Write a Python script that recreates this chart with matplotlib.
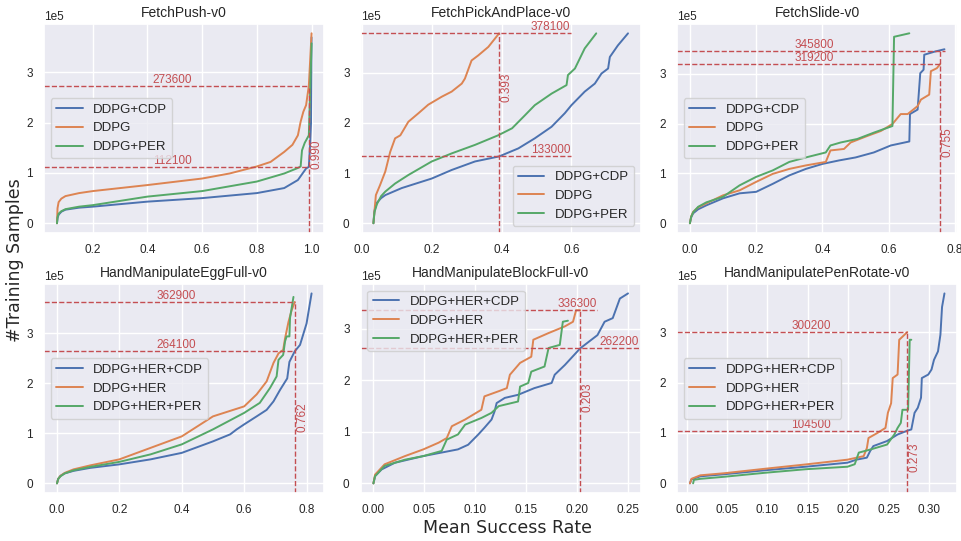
import matplotlib
matplotlib.use('Agg')
import matplotlib.pyplot as plt
import seaborn as sns

# ---- data: success rate (x) vs training samples (y) ----
titles = ['FetchPush-v0', 'FetchPickAndPlace-v0', 'FetchSlide-v0',
          'HandManipulateEggFull-v0', 'HandManipulateBlockFull-v0',
          'HandManipulatePenRotate-v0']
labels_fetch = ['DDPG+CDP', 'DDPG', 'DDPG+PER']
labels_hand = ['DDPG+HER+CDP', 'DDPG+HER', 'DDPG+HER+PER']

# FetchPush
push_cdp_x = [0.069, 0.071, 0.075, 0.085, 0.1, 0.15, 0.2, 0.4, 0.6, 0.8, 0.9, 0.95, 0.98, 0.99, 0.995, 0.998, 1.0]
push_cdp_y = [0, 10000, 17000, 23000, 27000, 31000, 33000, 43000, 50000, 60000, 70000, 86000, 109000, 112100, 160000, 200000, 370000]
push_ddpg_x = [0.069, 0.071, 0.075, 0.085, 0.1, 0.15, 0.2, 0.4, 0.6, 0.7, 0.8, 0.85, 0.9, 0.93, 0.95, 0.96, 0.97, 0.98, 0.99, 1.0]
push_ddpg_y = [0, 30000, 42000, 49000, 54000, 60000, 64000, 76000, 89000, 99000, 113000, 122000, 142000, 156000, 175000, 202000, 222000, 235000, 273600, 378000]
push_per_x = [0.069, 0.071, 0.075, 0.085, 0.1, 0.15, 0.2, 0.4, 0.6, 0.8, 0.9, 0.95, 0.96, 0.965, 0.975, 0.99, 1.0]
push_per_y = [0, 12000, 19000, 24000, 28000, 33000, 36000, 53000, 64000, 83000, 99000, 110000, 113000, 145000, 160000, 175000, 358000]

# FetchPickAndPlace
pick_cdp_x = [0.033, 0.036, 0.043, 0.055, 0.067, 0.114, 0.2, 0.257, 0.324, 0.393, 0.448, 0.495, 0.543, 0.581, 0.6, 0.638, 0.667, 0.686, 0.705, 0.71, 0.733, 0.762]
pick_cdp_y = [0, 25000, 41000, 50000, 56000, 70000, 89000, 106000, 123000, 133000, 149000, 169000, 192000, 219000, 235000, 262000, 278000, 298000, 308000, 331000, 354000, 378000]
pick_ddpg_x = [0.033, 0.04, 0.052, 0.067, 0.081, 0.095, 0.11, 0.133, 0.162, 0.19, 0.229, 0.257, 0.286, 0.295, 0.314, 0.333, 0.362, 0.393]
pick_ddpg_y = [0, 56000, 76000, 103000, 142000, 169000, 175000, 202000, 219000, 236000, 252000, 262000, 278000, 288000, 324000, 334000, 351000, 378100]
pick_per_x = [0.033, 0.036, 0.043, 0.055, 0.067, 0.095, 0.133, 0.2, 0.257, 0.324, 0.39, 0.43, 0.467, 0.495, 0.543, 0.586, 0.59, 0.61, 0.638, 0.671]
pick_per_y = [0, 22000, 38000, 54000, 63000, 79000, 96000, 123000, 139000, 156000, 175000, 189000, 215000, 235000, 258000, 275000, 295000, 308000, 348000, 378000]

# FetchSlide
slide_cdp_x = [0.0, 0.004, 0.01, 0.025, 0.05, 0.1, 0.15, 0.2, 0.25, 0.3, 0.35, 0.4, 0.45, 0.5, 0.555, 0.606, 0.662, 0.664, 0.687, 0.695, 0.705, 0.707, 0.737, 0.768]
slide_cdp_y = [0, 12000, 20000, 28000, 36000, 50000, 60000, 63000, 79000, 96000, 109000, 119000, 126000, 132000, 142000, 156000, 164000, 219000, 228000, 301000, 308000, 338000, 344000, 349000]
slide_ddpg_x = [0.0, 0.004, 0.01, 0.025, 0.05, 0.1, 0.15, 0.2, 0.25, 0.3, 0.35, 0.41, 0.424, 0.465, 0.485, 0.535, 0.576, 0.611, 0.636, 0.657, 0.687, 0.697, 0.722, 0.727, 0.745, 0.755]
slide_ddpg_y = [0, 14000, 23000, 32000, 40000, 56000, 66000, 83000, 99000, 109000, 116000, 123000, 146000, 149000, 162000, 175000, 185000, 199000, 219000, 219000, 235000, 248000, 258000, 305000, 311000, 319200]
slide_per_x = [0.0, 0.004, 0.01, 0.025, 0.05, 0.1, 0.15, 0.2, 0.25, 0.3, 0.35, 0.41, 0.424, 0.455, 0.505, 0.556, 0.611, 0.616, 0.662]
slide_per_y = [0, 13000, 22000, 33000, 42000, 53000, 76000, 93000, 106000, 123000, 132000, 142000, 156000, 162000, 169000, 182000, 195000, 374000, 381000]

# HandManipulateEggFull
egg_cdp_x = [0.0, 0.004, 0.011, 0.025, 0.053, 0.107, 0.2, 0.3, 0.4, 0.5, 0.555, 0.576, 0.6, 0.64, 0.672, 0.694, 0.715, 0.738, 0.745, 0.762, 0.779, 0.8, 0.816]
egg_cdp_y = [0, 9000, 15000, 20000, 25000, 31000, 38000, 48000, 61000, 84000, 98000, 108000, 118000, 134000, 147000, 164000, 187000, 210000, 243000, 264100, 277000, 320000, 380000]
egg_her_x = [0.0, 0.004, 0.011, 0.025, 0.053, 0.107, 0.2, 0.3, 0.4, 0.5, 0.6, 0.64, 0.672, 0.694, 0.71, 0.725, 0.731, 0.742, 0.752, 0.762]
egg_her_y = [0, 9000, 15000, 21000, 28000, 36000, 48000, 71000, 94000, 134000, 154000, 178000, 204000, 241000, 260000, 267000, 290000, 323000, 346000, 362900]
egg_per_x = [0.0, 0.004, 0.011, 0.025, 0.053, 0.107, 0.2, 0.3, 0.4, 0.5, 0.6, 0.65, 0.683, 0.704, 0.71, 0.725, 0.731, 0.736, 0.745, 0.747, 0.758]
egg_per_y = [0, 9000, 14000, 20000, 26000, 33000, 43000, 58000, 78000, 108000, 141000, 161000, 191000, 214000, 247000, 257000, 284000, 294000, 294000, 331000, 373000]

# HandManipulateBlockFull
block_cdp_x = [0.0, 0.0016, 0.008, 0.021, 0.049, 0.07, 0.083, 0.093, 0.103, 0.109, 0.116, 0.119, 0.121, 0.129, 0.142, 0.158, 0.175, 0.178, 0.188, 0.203, 0.22, 0.227, 0.235, 0.242, 0.25]
block_cdp_y = [0, 14000, 27000, 40000, 53000, 61000, 66000, 75000, 95000, 108000, 124000, 140000, 156000, 166000, 172000, 185000, 195000, 211000, 230000, 262200, 288000, 314000, 321000, 359000, 369000]
block_her_x = [0.0, 0.0016, 0.011, 0.031, 0.049, 0.064, 0.072, 0.077, 0.09, 0.106, 0.109, 0.123, 0.131, 0.134, 0.144, 0.155, 0.157, 0.172, 0.188, 0.196, 0.199, 0.203]
block_her_y = [0, 17000, 37000, 53000, 66000, 79000, 88000, 111000, 124000, 143000, 169000, 179000, 185000, 211000, 234000, 246000, 279000, 292000, 305000, 314000, 336300, 336300]
block_per_x = [0.0, 0.0016, 0.011, 0.031, 0.049, 0.067, 0.072, 0.083, 0.09, 0.106, 0.116, 0.123, 0.142, 0.144, 0.152, 0.155, 0.168, 0.172, 0.183, 0.186, 0.191]
block_per_y = [0, 14000, 34000, 46000, 53000, 63000, 85000, 95000, 114000, 127000, 137000, 150000, 159000, 188000, 195000, 217000, 227000, 263000, 269000, 314000, 316000]

# HandManipulatePenRotate
pen_cdp_x = [0.004, 0.006, 0.017, 0.046, 0.097, 0.147, 0.199, 0.21, 0.223, 0.227, 0.231, 0.248, 0.261, 0.273, 0.278, 0.282, 0.286, 0.29, 0.291, 0.299, 0.303, 0.306, 0.311, 0.314, 0.316, 0.319]
pen_cdp_y = [0, 8000, 14000, 18000, 26000, 33000, 41000, 47000, 51000, 64000, 74000, 84000, 97000, 104500, 107000, 140000, 150000, 170000, 209000, 216000, 226000, 245000, 262000, 295000, 350000, 377000]
pen_her_x = [0.004, 0.006, 0.017, 0.046, 0.097, 0.147, 0.199, 0.219, 0.223, 0.225, 0.236, 0.246, 0.249, 0.253, 0.255, 0.261, 0.263, 0.267, 0.273]
pen_her_y = [0, 9000, 16000, 20000, 29000, 37500, 47000, 54000, 70000, 90000, 100000, 110000, 140000, 159000, 209000, 216000, 285000, 291000, 300200]
pen_per_x = [0.008, 0.009, 0.017, 0.046, 0.097, 0.147, 0.199, 0.208, 0.213, 0.227, 0.248, 0.257, 0.261, 0.265, 0.267, 0.274, 0.276, 0.278]
pen_per_y = [0, 7000, 9000, 13000, 21000, 28000, 33000, 38000, 61000, 67000, 77000, 97000, 110000, 120000, 146000, 146000, 285000, 285000]

curves = [
    [(push_cdp_x, push_cdp_y), (push_ddpg_x, push_ddpg_y), (push_per_x, push_per_y)],
    [(pick_cdp_x, pick_cdp_y), (pick_ddpg_x, pick_ddpg_y), (pick_per_x, pick_per_y)],
    [(slide_cdp_x, slide_cdp_y), (slide_ddpg_x, slide_ddpg_y), (slide_per_x, slide_per_y)],
    [(egg_cdp_x, egg_cdp_y), (egg_her_x, egg_her_y), (egg_per_x, egg_per_y)],
    [(block_cdp_x, block_cdp_y), (block_her_x, block_her_y), (block_per_x, block_per_y)],
    [(pen_cdp_x, pen_cdp_y), (pen_her_x, pen_her_y), (pen_per_x, pen_per_y)],
]

# reference marks: success level, sample counts, where the dashed lines end
mark_rate = [0.990, 0.393, 0.755, 0.762, 0.203, 0.273]
mark_samples = [[273600, 112100], [378100, 133000], [345800, 319200],
                [362900, 264100], [336300, 262200], [300200, 104500]]
hline_end = [[0.99, 0.99], [0.6, 0.6], [0.77, 0.755],
             [0.763, 0.763], [0.22, None], [0.273, 0.273]]
# text anchors for sample labels (x, horizontal alignment)
label_x = [(0.49, 'center'), (0.597, 'right'), (0.376, 'center'),
           (0.381, 'center'), [(0.2, 'center'), (0.241, 'center')], (0.154, 'center')]
rate_text_y = [137000, 270000, 162000, 132000, 168000, 52000]
legend_loc = ['center left', 'lower right', 'center left',
              'center left', 'upper left', 'center left']

sns.set_theme(style='darkgrid')
plt.rcParams['font.family'] = ['Liberation Sans', 'DejaVu Sans']

fig, axes = plt.subplots(2, 3, figsize=(9.62, 5.41), dpi=100)
fig.subplots_adjust(left=0.046, right=0.995, top=0.956, bottom=0.089,
                    wspace=0.13, hspace=0.245)

colors = sns.color_palette('deep')
red = colors[3]

for i, ax in enumerate(axes.flat):
    names = labels_fetch if i < 3 else labels_hand
    for k, (xs, ys) in enumerate(curves[i]):
        ax.plot(xs, ys, color=colors[k], lw=1.4, label=names[k])

    ax.set_title(titles[i], fontsize=10, pad=5)
    ax.ticklabel_format(style='sci', axis='y', scilimits=(0, 0))
    ax.yaxis.get_offset_text().set_fontsize(8.5)
    ax.tick_params(labelsize=8.5, pad=2)
    ax.set_yticks([0, 100000, 200000, 300000])

    # freeze limits before adding the reference lines
    x0, x1 = ax.get_xlim()
    y0, y1 = ax.get_ylim()
    ax.set_xlim(x0, x1)
    ax.set_ylim(y0, y1)

    rate = mark_rate[i]
    for j, s in enumerate(mark_samples[i]):
        xe = hline_end[i][j]
        if xe is None:
            xe = x1
        ax.hlines(s, x0, xe, colors=red, linestyles='--', lw=1)
        if isinstance(label_x[i], list):
            tx, ha = label_x[i][j]
        else:
            tx, ha = label_x[i]
        ax.text(tx, s, str(s), color=red, fontsize=8.5, ha=ha, va='bottom')
    ax.vlines(rate, y0, max(mark_samples[i]), colors=red, linestyles='--', lw=1)
    ax.text(rate + (x1 - x0) * 0.005, rate_text_y[i], f'{rate:.3f}', color=red,
            fontsize=8.5, rotation=90, ha='left', va='center')

    ax.legend(loc=legend_loc[i], fontsize=9.5, framealpha=0.8)

fig.text(0.016, 0.52, '#Training Samples', rotation=90, ha='center', va='center',
         fontsize=12.5, family='DejaVu Sans')
fig.text(0.528, 0.024, 'Mean Success Rate', ha='center', va='center',
         fontsize=12.5, family='DejaVu Sans')

plt.savefig('out.png', dpi=100)
plt.close()
